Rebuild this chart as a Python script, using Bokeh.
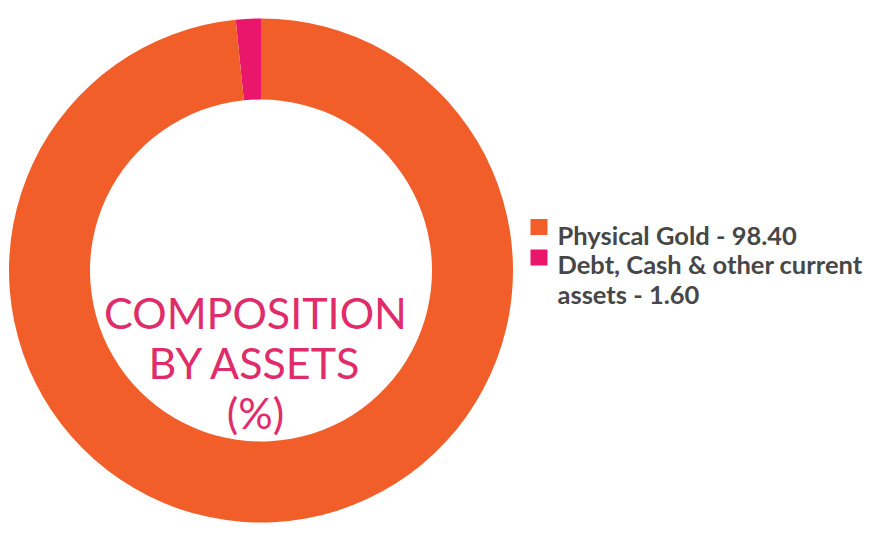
import numpy as np
from bokeh.plotting import figure
from bokeh.models import ColumnDataSource
from bokeh.core.properties import value
from bokeh.embed import file_html
from bokeh.resources import INLINE

categories = ["Debt, Cash & other current assets", "Physical Gold"]
values = [1.60, 98.40]
colors = ["#EA166B", "#F15E29"]
legend_order = [1, 0]
legend_lines = [["Physical Gold - 98.40"], ["Debt, Cash & other current", "assets - 1.60"]]
center_lines = ["COMPOSITION", "BY ASSETS", "(%)"]

W, H = 872, 548
p = figure(width=W, height=H, x_range=(0, W), y_range=(0, H),
           output_backend="svg", toolbar_location=None, min_border=0)
p.axis.visible = False
p.grid.visible = False
p.outline_line_color = None
p.background_fill_color = "white"
p.border_fill_color = "white"

vals = np.array(values, dtype=float)
fr = vals / vals.sum()
cum = np.concatenate([[0], np.cumsum(fr)])
start = np.pi / 2 + cum[:-1] * 2 * np.pi
end = np.pi / 2 + cum[1:] * 2 * np.pi
src = ColumnDataSource(dict(start=start, end=end, color=colors, cat=categories))
cx, cy = 260.5, 278
p.annular_wedge(x=cx, y=cy, inner_radius=171, outer_radius=252,
                start_angle="start", end_angle="end", direction="anticlock",
                fill_color="color", line_color=None, source=src)

# center text
for i, t in enumerate(center_lines):
    p.text(x=[255], y=[236 - 50 * i], text=[t], text_font=value("Lato"),
           text_font_size="43px", text_color="#E02C6B", text_align="center",
           text_baseline="alphabetic")

# legend
sq_y = [321.5, 291]
for k, idx in enumerate(legend_order):
    p.rect(x=[538.5], y=[sq_y[k]], width=17, height=16, fill_color=colors[idx], line_color=None)
yy = 314
for k, lines in enumerate(legend_lines):
    for ln in lines:
        p.text(x=[557], y=[yy], text=[ln], text_font=value("Lato"), text_font_style="bold",
               text_font_size="25.5px", text_color="#474747", text_baseline="alphabetic")
        yy -= 29.5

open("out.html", "w").write(file_html(p, INLINE))
